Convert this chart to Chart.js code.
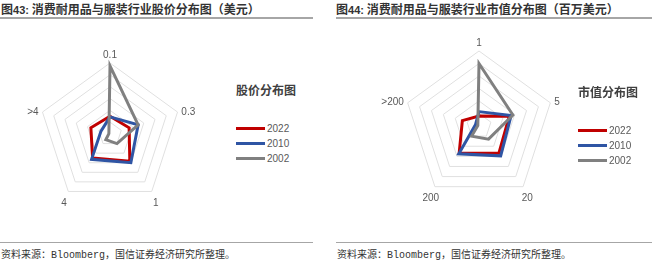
<!DOCTYPE html>
<html>
<head>
<meta charset="utf-8">
<script src="https://cdn.jsdelivr.net/npm/chart.js@4.4.1/dist/chart.umd.min.js"></script>
<style>
    html, body { margin: 0; padding: 0; background: #fff; }
    body { width: 660px; height: 260px; position: relative; overflow: hidden;
           font-family: "Noto Sans CJK SC", "Noto Sans", sans-serif; }
    .abs { position: absolute; }
    .title { font-size: 12px; font-weight: bold; color: #333; line-height: 14px; white-space: nowrap; }
    .title .num { font-family: "Liberation Sans", sans-serif; font-size: 11px; }
    .rule { height: 2px; background: #a6a6a6; }
    .source { font-size: 10px; color: #333; line-height: 12px; white-space: nowrap; }
    .source .en { font-family: "Liberation Mono", monospace; font-size: 10px; }
    .legend-title { font-size: 12px; font-weight: bold; color: #404040; line-height: 14px; white-space: nowrap; }
    .legend-item { font-family: "Liberation Sans", sans-serif; font-size: 10px; color: #595959;
                   line-height: 12px; white-space: nowrap; }
    .legend-item span.swatch { display: inline-block; width: 29px; height: 3px; vertical-align: middle;
                               margin-right: 2px; position: relative; top: -1px; }
</style>
</head>
<body>
<div class="abs title" style="left:1px;top:2px;">图<span class="num">43:</span> 消费耐用品与服装行业股价分布图（美元）</div>
<div class="abs rule" style="left:0;top:17px;width:313px;"></div>
<div class="abs title" style="left:336px;top:2px;">图<span class="num">44:</span> 消费耐用品与服装行业市值分布图（百万美元）</div>
<div class="abs rule" style="left:336px;top:17px;width:316px;"></div>

<canvas id="price-chart" class="abs" width="220" height="200" style="left:0;top:34px;"></canvas>
<canvas id="cap-chart" class="abs" width="220" height="200" style="left:369px;top:26px;"></canvas>

<div id="price-legend" class="abs" style="left:236px;top:83px;"></div>
<div id="cap-legend" class="abs" style="left:578px;top:85px;"></div>

<div class="abs rule" style="left:0;top:242px;width:313px;height:1px;"></div>
<div class="abs source" style="left:1px;top:248px;">资料来源：<span class="en">Bloomberg</span>，国信证券经济研究所整理。</div>
<div class="abs rule" style="left:336px;top:242px;width:316px;height:1px;"></div>
<div class="abs source" style="left:337px;top:248px;">资料来源：<span class="en">Bloomberg</span>，国信证券经济研究所整理。</div>

<script>
    // 股价分布 (USD), share of companies in each bin (%)
    const priceLabels = ["0.1", "0.3", "1", "4", ">4"];
    const price2022 = [15, 17, 28.5, 25, 17];
    const price2010 = [14.5, 25, 30, 26.5, 8];
    const price2002 = [57.5, 25, 10, 6, 1];

    // 市值分布 (million USD), share of companies in each bin (%)
    const capLabels = ["1", "5", "20", "200", ">200"];
    const cap2022 = [8, 25.5, 27, 27, 14];
    const cap2010 = [11.5, 27, 29.5, 27.5, 3];
    const cap2002 = [50, 28.5, 13, 10, 1];

    const seriesNames = ["2022", "2010", "2002"];
    const seriesColors = ["#c00000", "#2f55a4", "#808080"];

    const axisMax = 60;
    const axisStep = 10;

    // draws the category labels round the outer ring without shrinking the radar
    const cornerLabels = {
        id: "cornerLabels",
        afterDraw(chart) {
            const scale = chart.scales.r;
            const ctx = chart.ctx;
            ctx.save();
            ctx.font = '10px "Liberation Sans", sans-serif';
            ctx.fillStyle = "#595959";
            chart.data.labels.forEach(function (label, i) {
                const a = scale.getIndexAngle(i);
                const s = Math.sin(a);
                const c = Math.cos(a);
                let p;
                if (c > 0.5) {
                    p = scale.getPointPosition(i, scale.drawingArea + 3);
                    ctx.textAlign = "center";
                    ctx.textBaseline = "bottom";
                } else if (c < -0.5) {
                    p = scale.getPointPosition(i, scale.drawingArea + 7);
                    ctx.textAlign = "center";
                    ctx.textBaseline = "top";
                } else {
                    p = scale.getPointPosition(i, scale.drawingArea + 4);
                    ctx.textAlign = s > 0 ? "left" : "right";
                    ctx.textBaseline = "middle";
                }
                ctx.fillText(label, p.x, p.y + (c > 0.5 ? 0 : 1));
            });
            ctx.restore();
        },
    };

    function makeDatasets(values) {
        return values.map(function (data, i) {
            return {
                label: seriesNames[i],
                data: data,
                borderColor: seriesColors[i],
                backgroundColor: seriesColors[i],
                borderWidth: 3,
                borderJoinStyle: "miter",
                pointRadius: 0,
                fill: false,
                order: 3 - i,
            };
        });
    }

    function drawRadar(id, labels, values, padding) {
        new Chart(document.getElementById(id).getContext("2d"), {
            type: "radar",
            data: {
                labels: labels,
                datasets: makeDatasets(values),
            },
            options: {
                responsive: false,
                animation: false,
                layout: { padding: padding },
                plugins: {
                    legend: { display: false },
                    tooltip: { enabled: false },
                },
                scales: {
                    r: {
                        min: 0,
                        max: axisMax,
                        ticks: { display: false, stepSize: axisStep },
                        grid: { color: "#e0e0e0", lineWidth: 1 },
                        angleLines: { display: false },
                        pointLabels: { display: false },
                    },
                },
            },
            plugins: [cornerLabels],
        });
    }

    function drawLegend(id, title) {
        const box = document.getElementById(id);
        let html = '<div class="legend-title">' + title + "</div>";
        seriesNames.forEach(function (name, i) {
            const top = i === 0 ? 26 : 3;
            html += '<div class="legend-item" style="margin-top:' + top + 'px">' +
                '<span class="swatch" style="background:' + seriesColors[i] + '"></span>' + name + "</div>";
        });
        box.innerHTML = html;
    }

    drawRadar("price-chart", priceLabels, [price2022, price2010, price2002],
        { left: 39, right: 39, top: 29, bottom: 29 });
    drawRadar("cap-chart", capLabels, [cap2022, cap2010, cap2002],
        { left: 35, right: 35, top: 25, bottom: 25 });

    drawLegend("price-legend", "股价分布图");
    drawLegend("cap-legend", "市值分布图");
</script>
</body>
</html>
